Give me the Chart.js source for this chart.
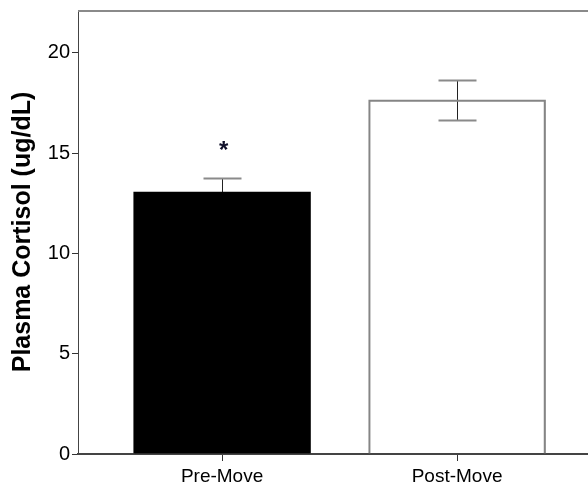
<!DOCTYPE html>
<html>
<head>
<meta charset="utf-8">
<script src="https://cdn.jsdelivr.net/npm/chart.js@4/dist/chart.umd.min.js"></script>
<style>
    html, body { margin: 0; padding: 0; background: #ffffff; }
    #wrap { width: 588px; height: 487px; position: relative; }
</style>
</head>
<body>
<div id="wrap"><canvas id="cortisol"></canvas></div>
<script>
// ── Data ──────────────────────────────────────────────────

const groups     = ['Pre-Move', 'Post-Move'];
const groupPos   = [1, 2];
const means      = [13.07, 17.66];
const errHigh    = [13.77, 18.65];
const errLow     = [12.37, 16.66];
const sigMarks   = ['*', ''];
const sigLevel   = [15.25, null];
const yTicks     = [0, 5, 10, 15, 20];
const barFills   = ['#000000', 'rgba(255,255,255,0)'];
const barEdges   = ['#000000', '#858585'];

const FONT = "'Liberation Sans', Arial, sans-serif";

// ── Plugins ───────────────────────────────────────────────

// top frame line (plot runs off the right edge, so no right border)
const framePlugin = {
    id: 'frame',
    afterDraw(chart) {
        const { ctx, chartArea } = chart;
        ctx.save();
        ctx.strokeStyle = '#8a8a8a';
        ctx.lineWidth = 2;
        ctx.beginPath();
        ctx.moveTo(chartArea.left, chartArea.top + 1);
        ctx.lineTo(chartArea.right, chartArea.top + 1);
        ctx.stroke();
        ctx.restore();
    }
};

// error bars sit behind the bars, so the black bar hides its lower half
const errorBarPlugin = {
    id: 'errorBars',
    beforeDatasetsDraw(chart) {
        const { ctx, scales } = chart;
        const half = 19;
        ctx.save();
        groupPos.forEach((g, i) => {
            const x  = Math.round(scales.x.getPixelForValue(g)) + 0.5;
            const yH = Math.round(scales.y.getPixelForValue(errHigh[i])) + 0.5;
            const yL = Math.round(scales.y.getPixelForValue(errLow[i])) + 0.5;

            ctx.strokeStyle = '#222222';
            ctx.lineWidth = 1;
            ctx.beginPath();
            ctx.moveTo(x, yH);
            ctx.lineTo(x, yL);
            ctx.stroke();

            ctx.strokeStyle = '#8a8a8a';
            ctx.lineWidth = 2;
            ctx.beginPath();
            ctx.moveTo(x - half, yH);
            ctx.lineTo(x + half, yH);
            ctx.moveTo(x - half, yL);
            ctx.lineTo(x + half, yL);
            ctx.stroke();
        });
        ctx.restore();
    },
    afterDatasetsDraw(chart) {
        const { ctx, scales } = chart;
        ctx.save();
        groupPos.forEach((g, i) => {
            if (!sigMarks[i]) return;
            ctx.fillStyle = '#10102a';
            ctx.font = 'bold 24px ' + FONT;
            ctx.textAlign = 'center';
            ctx.textBaseline = 'middle';
            ctx.fillText(sigMarks[i], scales.x.getPixelForValue(g) + 1.5, scales.y.getPixelForValue(sigLevel[i]) + 3);
        });
        ctx.restore();
    }
};

// ── Chart ─────────────────────────────────────────────────

const ctx = document.getElementById('cortisol').getContext('2d');

new Chart(ctx, {
    type: 'bar',
    plugins: [framePlugin, errorBarPlugin],
    data: {
        datasets: [{
            data: groupPos.map((g, i) => ({ x: g, y: means[i] })),
            backgroundColor: barFills,
            borderColor: barEdges,
            borderWidth: 1.5,
            barThickness: 177
        }]
    },
    options: {
        responsive: true,
        maintainAspectRatio: false,
        animation: false,
        layout: { padding: { top: 10, right: 0, bottom: 0, left: 0 } },
        plugins: {
            legend:  { display: false },
            tooltip: { enabled: false }
        },
        scales: {
            x: {
                type: 'linear',
                offset: false,
                min: 0.387,
                max: 2.557,
                afterBuildTicks: scale => { scale.ticks = groupPos.map(v => ({ value: v })); },
                afterFit: scale => { scale.height = 33; scale.paddingLeft = 0; scale.paddingRight = 0; },
                ticks: {
                    color: '#000000',
                    font: { family: FONT, size: 19 },
                    padding: 4,
                    callback: v => groups[groupPos.indexOf(v)] || ''
                },
                grid:   { offset: false, drawOnChartArea: false, drawTicks: true, tickLength: 7, color: '#333333' },
                border: { display: true, color: '#444444', width: 2 }
            },
            y: {
                min: 0,
                max: 22.14,
                afterBuildTicks: scale => { scale.ticks = yTicks.map(v => ({ value: v })); },
                afterFit: scale => { scale.width = 78; scale.paddingTop = 0; scale.paddingBottom = 0; },
                ticks: {
                    color: '#000000',
                    font: { family: FONT, size: 20 },
                    padding: 2
                },
                grid:   { drawOnChartArea: false, drawTicks: true, tickLength: 6, color: '#333333' },
                border: { display: true, color: '#444444', width: 1 },
                title: {
                    display: true,
                    text: 'Plasma Cortisol (ug/dL)',
                    color: '#000000',
                    font: { family: FONT, size: 25, weight: 'bold' },
                    padding: { top: 8, bottom: 0 }
                }
            }
        }
    }
});
</script>
</body>
</html>
